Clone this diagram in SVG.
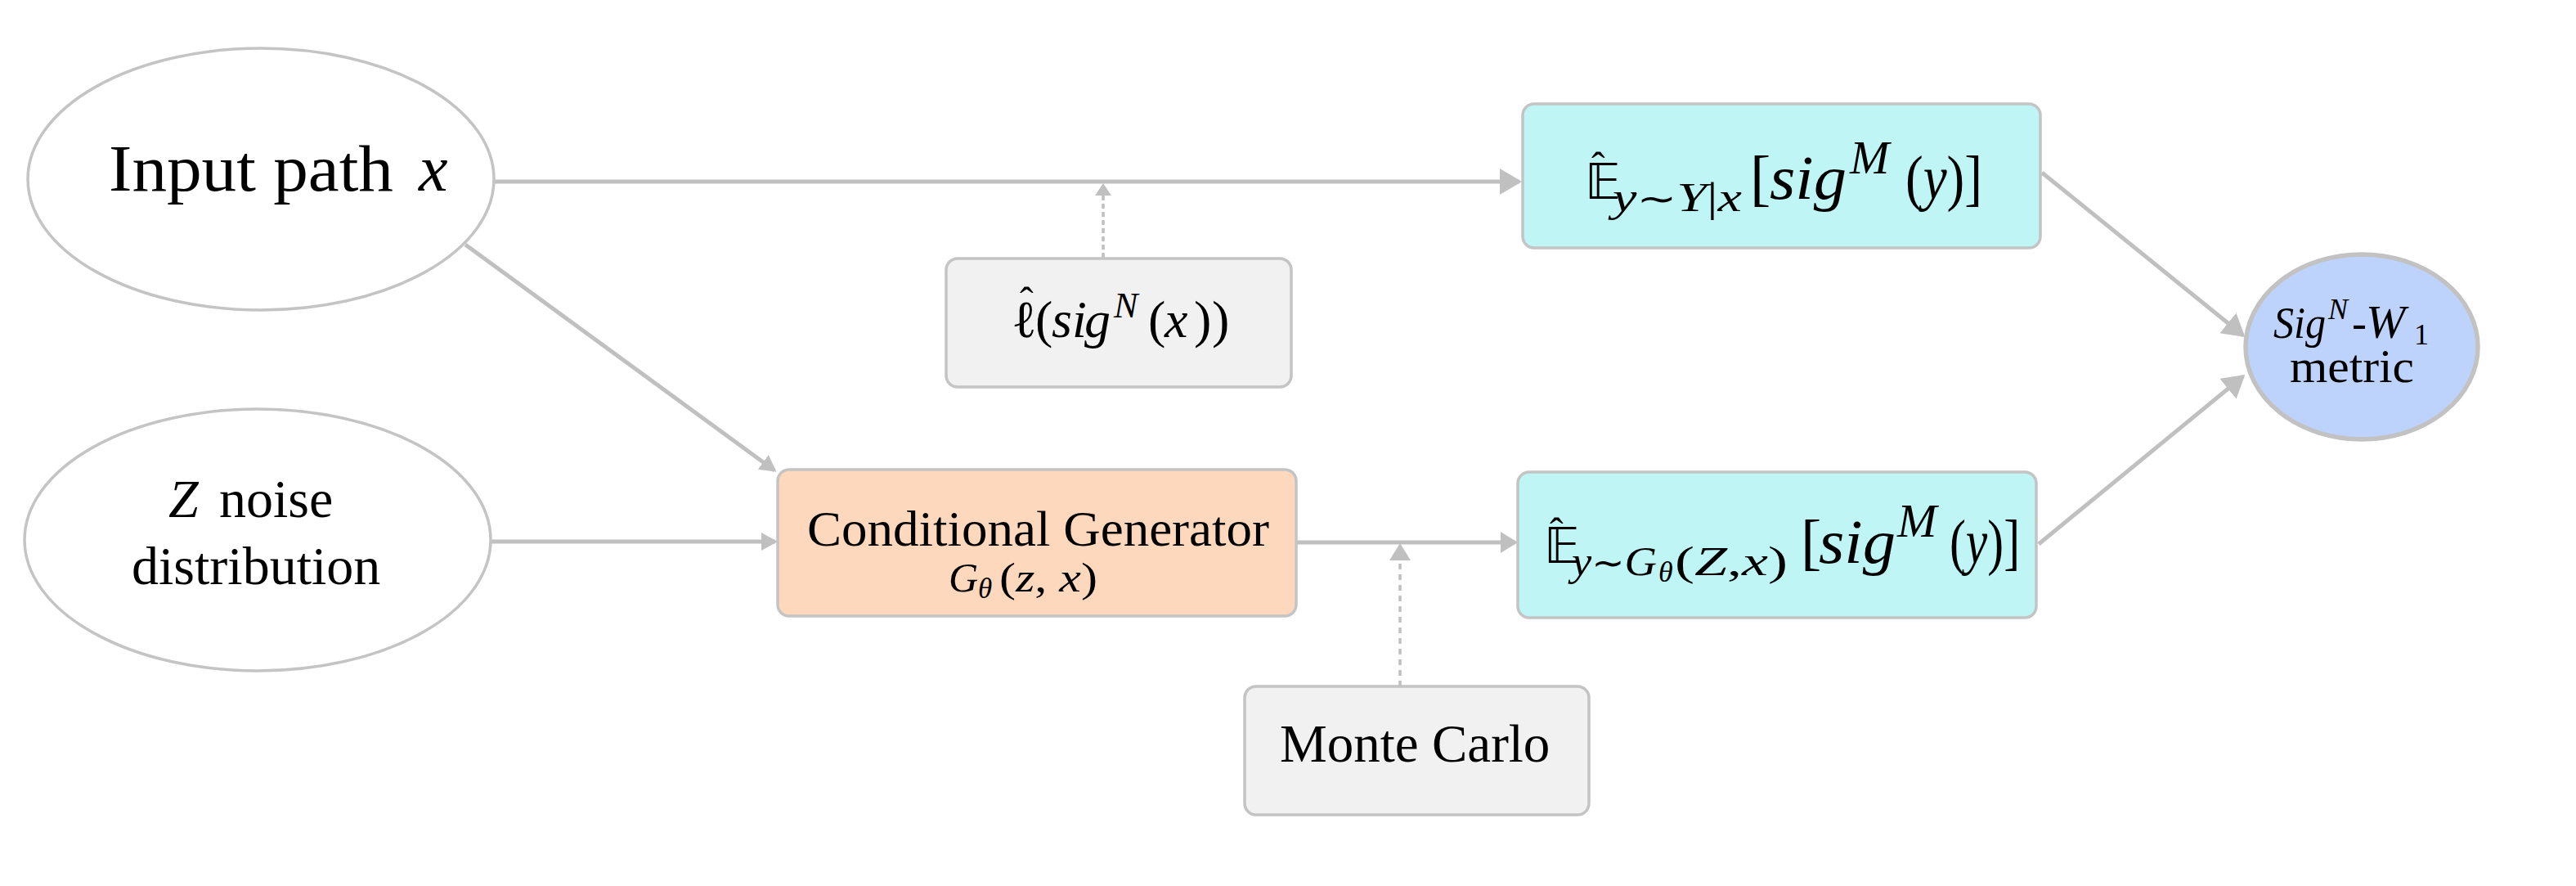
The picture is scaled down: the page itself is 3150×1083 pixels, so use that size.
<svg xmlns="http://www.w3.org/2000/svg" width="3150" height="1083" viewBox="0 0 3150 1083">
<style>
  .edge { fill: none; stroke: #c0c0c0; stroke-width: 5; }
  .dash { fill: none; stroke: #c0c0c0; stroke-width: 3.5; }
  .ell { fill: #ffffff; stroke: #c4c4c4; stroke-width: 3.5; }
  .box { stroke: #c4c4c4; stroke-width: 3.5; }
  .cyan { fill: #bff6f5; }
  .peach { fill: #fed8bd; }
  .grey { fill: #f1f1f1; }
  .metric { fill: #bed3fb; stroke: #c2c2c2; stroke-width: 5.5; }
  text { font-family: "Liberation Serif", "DejaVu Serif", serif; fill: #000; }
  .it { font-style: italic; }
  .up { font-style: normal; }
  .bb { font-family: "DejaVu Sans", "DejaVu Serif", sans-serif; font-style: normal; }
</style>
<defs>
  <marker id="ahL" markerUnits="userSpaceOnUse" markerWidth="28" markerHeight="34" refX="24" refY="16" orient="auto">
    <path d="M0,0 L27,16 L0,32 Z" fill="#c0c0c0"/>
  </marker>
  <marker id="ahM" markerUnits="userSpaceOnUse" markerWidth="24" markerHeight="28" refX="18" refY="13" orient="auto">
    <path d="M0,0 L21,13 L0,26 Z" fill="#c0c0c0"/>
  </marker>
  <marker id="ahS" markerUnits="userSpaceOnUse" markerWidth="22" markerHeight="24" refX="17" refY="11" orient="auto">
    <path d="M0,0 L20,11 L0,22 Z" fill="#c0c0c0"/>
  </marker>
  <marker id="ahT" markerUnits="userSpaceOnUse" markerWidth="18" markerHeight="22" refX="13" refY="10" orient="auto">
    <path d="M0,0 L15,10 L0,20 Z" fill="#c0c0c0"/>
  </marker>
</defs>
<rect width="3150" height="1083" fill="#ffffff"/>

<g id="connectors">
  <line class="edge" x1="605" y1="222" x2="1858" y2="222" marker-end="url(#ahL)"/>
  <line class="dash" x1="1349" y1="315" x2="1349" y2="226" stroke-dasharray="6,4" marker-end="url(#ahT)"/>
  <line class="edge" x1="569" y1="299" x2="947" y2="575" marker-end="url(#ahS)"/>
  <line class="edge" x1="599" y1="662" x2="948" y2="662" marker-end="url(#ahS)"/>
  <line class="edge" x1="1586" y1="663" x2="1853" y2="663" marker-end="url(#ahM)"/>
  <line class="dash" x1="1712" y1="839" x2="1712" y2="667" stroke-width="4" stroke-dasharray="7,6" marker-end="url(#ahM)"/>
  <line class="edge" x1="2497" y1="211" x2="2743" y2="410" marker-end="url(#ahL)"/>
  <line class="edge" x1="2493" y1="665" x2="2743" y2="460" marker-end="url(#ahL)"/>
</g>

<g id="node-input">
  <ellipse class="ell" cx="319" cy="219" rx="285" ry="160"/>
  <text font-size="80" y="233"><tspan x="133" textLength="348" lengthAdjust="spacingAndGlyphs">Input path</tspan><tspan class="it" x="512">x</tspan></text>
</g>

<g id="node-noise">
  <ellipse class="ell" cx="315" cy="660" rx="285" ry="160"/>
  <text font-size="66" y="632"><tspan class="it" x="206">Z</tspan><tspan x="268">noise</tspan></text>
  <text font-size="66" x="161" y="714">distribution</text>
</g>

<g id="node-lhat">
  <rect class="box grey" x="1157" y="316" width="422" height="157" rx="14"/>
  <text font-size="50" x="1247" y="386">ˆ</text>
  <text font-size="64" y="412"><tspan x="1237">ℓ</tspan><tspan x="1266">(</tspan><tspan class="it" x="1286">s</tspan><tspan class="it" x="1311">i</tspan><tspan class="it" x="1326">g</tspan><tspan class="it" x="1362" y="388" font-size="44">N</tspan><tspan x="1404" y="412">(</tspan><tspan class="it" x="1424">x</tspan><tspan x="1460">)</tspan><tspan x="1482">)</tspan></text>
</g>

<g id="node-generator">
  <rect class="box peach" x="951" y="574" width="634" height="179" rx="14"/>
  <text font-size="62" x="987" y="667" textLength="565" lengthAdjust="spacingAndGlyphs">Conditional Generator</text>
  <text font-size="50" y="723"><tspan class="it" x="1160">G</tspan><tspan class="it" x="1196" y="731" font-size="35">θ</tspan><tspan x="1222" y="723" textLength="120" lengthAdjust="spacingAndGlyphs">(<tspan class="it">z</tspan>, <tspan class="it">x</tspan>)</tspan></text>
</g>

<g id="node-montecarlo">
  <rect class="box grey" x="1522" y="839" width="421" height="157" rx="14"/>
  <text font-size="65" x="1565" y="931">Monte Carlo</text>
</g>

<g id="node-Etrue">
  <rect class="box cyan" x="1862" y="127" width="633" height="176" rx="14"/>
  <text font-size="50" x="1946" y="221">ˆ</text>
  <text font-size="76" y="243"><tspan class="bb" x="1938" font-size="60">𝔼</tspan><tspan class="it" x="1972" y="258" font-size="50" textLength="158" lengthAdjust="spacingAndGlyphs">y<tspan class="bb" font-size="44">∼</tspan>Y<tspan class="up">|</tspan>x</tspan><tspan x="2140" y="243">[</tspan><tspan class="it" x="2164" textLength="94" lengthAdjust="spacingAndGlyphs">sig</tspan><tspan class="it" x="2262" y="212" font-size="58">M</tspan><tspan x="2330" y="243" textLength="94" lengthAdjust="spacingAndGlyphs">(<tspan class="it">y</tspan>)]</tspan></text>
</g>

<g id="node-Egen">
  <rect class="box cyan" x="1856" y="577" width="634" height="178" rx="14"/>
  <text font-size="50" x="1895" y="668">ˆ</text>
  <text font-size="76" y="688"><tspan class="bb" x="1888" font-size="60">𝔼</tspan><tspan class="it" x="1922" y="703" font-size="50" textLength="104" lengthAdjust="spacingAndGlyphs">y<tspan class="bb" font-size="44">∼</tspan>G</tspan><tspan class="it" x="2028" y="711" font-size="36">θ</tspan><tspan x="2048" y="703" font-size="50" textLength="138" lengthAdjust="spacingAndGlyphs">(<tspan class="it">Z</tspan>,<tspan class="it">x</tspan>)</tspan><tspan x="2202" y="688">[</tspan><tspan class="it" x="2224" textLength="94" lengthAdjust="spacingAndGlyphs">sig</tspan><tspan class="it" x="2320" y="656" font-size="58">M</tspan><tspan x="2384" y="688" textLength="86" lengthAdjust="spacingAndGlyphs">(<tspan class="it">y</tspan>)]</tspan></text>
</g>

<g id="node-metric">
  <ellipse class="metric" cx="2888" cy="424" rx="142" ry="113"/>
  <text font-size="54" y="413"><tspan class="it" x="2780" textLength="64" lengthAdjust="spacingAndGlyphs">Sig</tspan><tspan class="it" x="2847" y="390" font-size="36">N</tspan><tspan x="2876" y="413">-</tspan><tspan class="it" x="2893" font-size="58">W</tspan><tspan x="2952" y="421" font-size="36">1</tspan></text>
  <text font-size="57" x="2800" y="467" textLength="152" lengthAdjust="spacingAndGlyphs">metric</text>
</g>
</svg>
